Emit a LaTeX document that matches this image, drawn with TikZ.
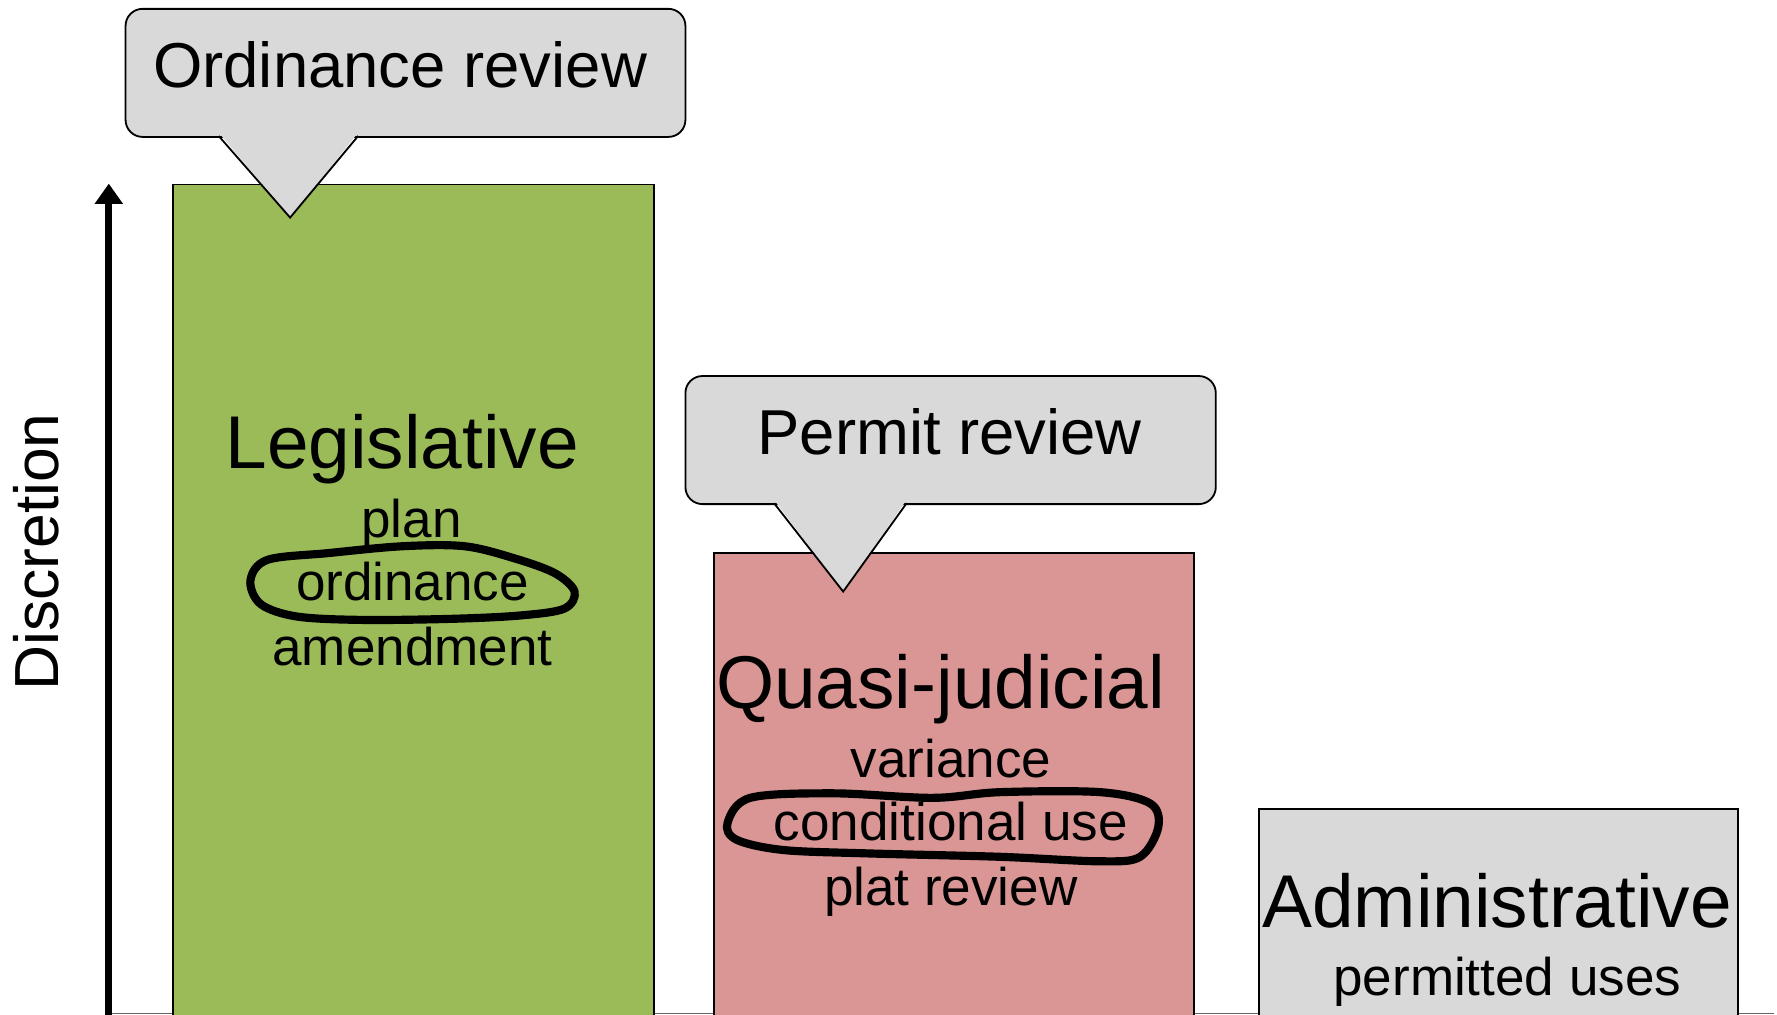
\documentclass[tikz,border=0pt]{standalone}
\usepackage{fontspec}
\setmainfont{Liberation Sans}
\usetikzlibrary{arrows.meta,positioning}
\definecolor{lvgreen}{RGB}{155,187,89}
\definecolor{lvpink}{RGB}{217,150,148}
\definecolor{lvgray}{RGB}{217,217,217}
\newcommand{\bigtxt}{\fontsize{33}{38}\selectfont}
\newcommand{\smalltxt}{\fontsize{23.4}{28}\selectfont}
\newcommand{\calltxt}{\fontsize{28}{33}\selectfont}

\begin{document}
\begin{tikzpicture}[x=0.5pt, y=-0.5pt,
  bar/.style={draw, line width=0.8pt, inner sep=0pt, anchor=north west},
  bubble/.style={draw, fill=lvgray, line width=0.8pt, rounded corners=7.5pt,
    inner sep=0pt, anchor=north west, minimum height=56.5pt},
  title/.style={anchor=base, font=\bigtxt, inner sep=0pt},
  item/.style={anchor=base, font=\smalltxt, inner sep=0pt},
  call/.style={anchor=base, font=\calltxt, inner sep=0pt},
  scribble/.style={line width=3.6pt, line join=round},
  arr/.style={-{Triangle[length=9pt, width=12pt]}, line width=3.2pt}]
\useasboundingbox (0,0) rectangle (1568,895);
% Axis
\coordinate (axbot) at (96,897);
\coordinate (axtop) at (96,162);
\coordinate (baseend) at (1565,894.5);
\draw[black!60, line width=0.5pt] (96,894.5) -- (baseend);
\draw[arr] (axbot) -- (axtop);
\node[rotate=90, anchor=base, inner sep=0pt, font=\fontsize{27.5}{32}\selectfont] (disc) at (52,487) {Discretion};
% Left: Legislative
\node[bar, fill=lvgreen, minimum width=212pt, minimum height=367.5pt] (leg) at (152,162) {};
\node[title] (legt) at (355,413) {Legislative};
\node[item] (plan) at (363,474) {plan};
\node[item] (ord) at (364,530) {ordinance};
\node[item] (amend) at (364,587) {amendment};
\draw[scribble] plot[smooth cycle, tension=0.55] coordinates {(221,512) (236,494) (290,488)
  (355,482) (410,482) (455,493) (490,506) (507,522) (498,537) (460,543) (400,546)
  (320,547) (262,544) (230,533)};
% Top: Ordinance review
\node[bubble, minimum width=247pt] (ordbox) at (110,7) {};
\node[call] (ordrev) at (353,77) {Ordinance review};
\coordinate (ordtip) at (256,192);
\fill[lvgray] (193,117) -- (ordtip) -- (316,117) -- cycle;
\draw[line width=0.8pt] (193,120) -- (ordtip) -- (316,120);
% Middle: Quasi-judicial
\node[bar, fill=lvpink, minimum width=212pt, minimum height=205pt] (quasi) at (629,487) {};
\node[title] (quasit) at (830,625) {Quasi-judicial};
\node[item] (var) at (839,686) {variance};
\node[item] (cond) at (839,742) {conditional use};
\node[item] (plat) at (839,799) {plat review};
\draw[scribble] plot[smooth cycle, tension=0.55] coordinates {(642,726) (662,704) (735,700)
  (823,704) (882,699) (971,699) (1015,709) (1022,730) (1006,756) (971,760) (882,756)
  (765,753) (691,750) (650,741)};
% Middle top: Permit review
\node[bubble, minimum width=234pt] (permbox) at (604,331) {};
\node[call] (permrev) at (838,401) {Permit review};
\coordinate (permtip) at (744,522);
\fill[lvgray] (683,441) -- (permtip) -- (800,441) -- cycle;
\draw[line width=0.8pt] (683,444) -- (permtip) -- (800,444);
% Right: Administrative
\node[bar, fill=lvgray, minimum width=211.5pt, minimum height=92pt] (admin) at (1110,713) {};
\node[title] (admint) at (1321,818) {Administrative};
\node[item] (perm) at (1330,878) {permitted uses};
\end{tikzpicture}
\end{document}
